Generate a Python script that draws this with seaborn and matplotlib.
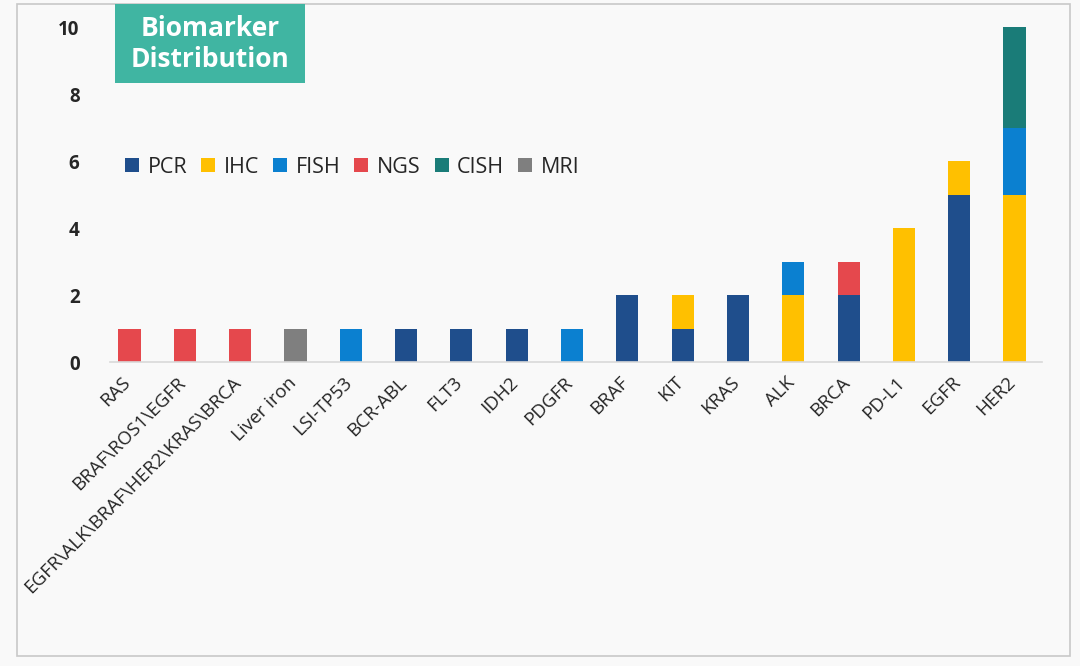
import matplotlib
matplotlib.use('Agg')
import matplotlib.pyplot as plt
from matplotlib.patches import Patch, Rectangle
from matplotlib.transforms import ScaledTranslation
import numpy as np
import pandas as pd
import seaborn as sns

# ---------------------------------------------------------
# Data
# ---------------------------------------------------------
markers = ['RAS', 'BRAF\\ROS1\\EGFR', 'EGFR\\ALK\\BRAF\\HER2\\KRAS\\BRCA', 'Liver iron',
           'LSI-TP53', 'BCR-ABL', 'FLT3', 'IDH2', 'PDGFR', 'BRAF', 'KIT', 'KRAS',
           'ALK', 'BRCA', 'PD-L1', 'EGFR', 'HER2']
methods = ['PCR', 'IHC', 'FISH', 'NGS', 'CISH', 'MRI']

pcr = [0, 0, 0, 0, 0, 1, 1, 1, 0, 2, 1, 2, 0, 2, 0, 5, 0]
ihc = [0, 0, 0, 0, 0, 0, 0, 0, 0, 0, 1, 0, 2, 0, 4, 1, 5]
fish = [0, 0, 0, 0, 1, 0, 0, 0, 1, 0, 0, 0, 1, 0, 0, 0, 2]
ngs = [1, 1, 1, 0, 0, 0, 0, 0, 0, 0, 0, 0, 0, 1, 0, 0, 0]
cish = [0, 0, 0, 0, 0, 0, 0, 0, 0, 0, 0, 0, 0, 0, 0, 0, 3]
mri = [0, 0, 0, 1, 0, 0, 0, 0, 0, 0, 0, 0, 0, 0, 0, 0, 0]

colors = ['#1f4e8c', '#ffc000', '#0b80d0', '#e5484d', '#1a7c78', '#7f7f7f']

# ---------------------------------------------------------
# Figure setup
# ---------------------------------------------------------
sns.set_style('white')
plt.rcParams['font.family'] = ['Open Sans', 'DejaVu Sans']

fig = plt.figure(figsize=(10.8, 6.66), dpi=100)
fig.patch.set_facecolor('#f9f9f9')
ax = fig.add_axes([0.102, 0.456, 0.863, 0.503])
ax.set_facecolor('none')

# stacked bars: draw cumulative totals from the top layer down
df = pd.DataFrame({'marker': markers, 'PCR': pcr, 'IHC': ihc, 'FISH': fish,
                   'NGS': ngs, 'CISH': cish, 'MRI': mri})
cum = df[methods].cumsum(axis=1)
for m, c in reversed(list(zip(methods, colors))):
    sns.barplot(x=df['marker'], y=cum[m], color=c, width=0.4, linewidth=0,
                saturation=1, ax=ax, order=markers)

ax.set_ylim(0, 10)
ax.set_xlim(-0.35, 16.5)
ax.set_yticks([0, 2, 4, 6, 8, 10])
ax.set_xlabel('')
ax.set_ylabel('')
ax.tick_params(axis='y', length=0, pad=22, labelsize=13.5)
ax.tick_params(axis='x', length=0, pad=8)
for lbl in ax.get_yticklabels():
    lbl.set_fontweight('bold')
ax.set_xticks(range(len(markers)))
ax.set_xticklabels(markers, rotation=45, ha='right', rotation_mode='anchor', fontsize=13.5)
shift = ScaledTranslation(-8 / 100, 0, fig.dpi_scale_trans)
for lbl in ax.get_xticklabels():
    lbl.set_transform(lbl.get_transform() + shift)

for s in ['top', 'right', 'left']:
    ax.spines[s].set_visible(False)
ax.spines['bottom'].set_color('#d9d9d9')
ax.spines['bottom'].set_linewidth(1.2)

# legend
handles = [Patch(facecolor=c, edgecolor='none', label=m) for m, c in zip(methods, colors)]
ax.legend(handles=handles, ncol=6, frameon=False, loc='center left',
          bbox_to_anchor=(-0.005, 0.582), fontsize=15.5, handlelength=0.65,
          handleheight=0.65, handletextpad=0.4, columnspacing=0.65)

# outer border
fig.add_artist(Rectangle((17 / 1080, 1 - 656 / 666), 1053 / 1080, 652 / 666,
                         transform=fig.transFigure, fill=False,
                         edgecolor='#c8c8c8', linewidth=1.2))

# title box
fig.add_artist(Rectangle((115 / 1080, 1 - 83 / 666), 190 / 1080, 79 / 666,
                         transform=fig.transFigure, facecolor='#40b5a2',
                         edgecolor='none'))
fig.text(210 / 1080, 1 - 44 / 666, 'Biomarker\nDistribution', color='white',
         fontsize=19, fontweight='bold', ha='center', va='center', linespacing=1.15)

fig.savefig('out.png', dpi=100, facecolor=fig.get_facecolor())
